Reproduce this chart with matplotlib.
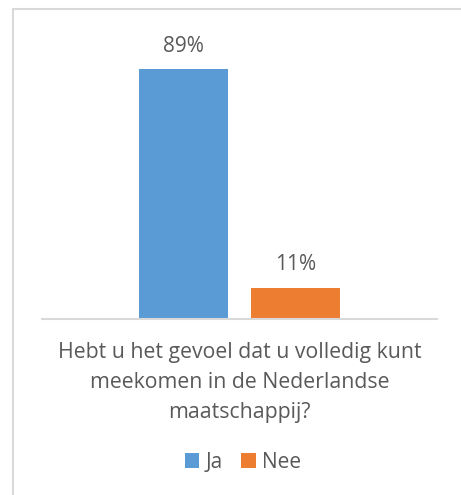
import matplotlib.pyplot as plt
from matplotlib.patches import Rectangle

# data
categories = ["Hebt u het gevoel dat u volledig kunt\nmeekomen in de Nederlandse\nmaatschappij?"]
series = ["Ja", "Nee"]
values = [89, 11]
colors = ["#5B9BD5", "#ED7D31"]

text_color = "#595959"
grid_color = "#D9D9D9"
plt.rcParams['font.family'] = ['Open Sans', 'DejaVu Sans']

fig = plt.figure(figsize=(4.61, 4.95), dpi=100)
ax = fig.add_axes([42 / 461, 1 - 318.5 / 495, 395 / 461, 280 / 495])

# outer chart border (cut off at right and bottom)
fig.patches.append(Rectangle((13 / 461, -0.1), 1.2, 1 - 9 / 495 + 0.1,
                             transform=fig.transFigure, fill=False,
                             edgecolor=grid_color, linewidth=1.5))

width = 0.225
offsets = [-0.1418, 0.1418]
for name, v, c, off in zip(series, values, colors, offsets):
    bars = ax.bar(0 + off, v, width=width, color=c, label=name)
    ax.bar_label(bars, labels=["%d%%" % v], padding=9, fontsize=15, color=text_color)

ax.set_xlim(-0.5, 0.5)
ax.set_ylim(0, 100)
ax.set_xticks([0], categories)
ax.tick_params(axis='x', length=0, pad=17, labelsize=15.3, labelcolor=text_color)
ax.set_yticks([])
for s in ['top', 'right', 'left']:
    ax.spines[s].set_visible(False)
ax.spines['bottom'].set_color(grid_color)
ax.spines['bottom'].set_linewidth(1.5)
for lbl in ax.get_xticklabels():
    lbl.set_linespacing(1.55)

fig.legend(loc='center', bbox_to_anchor=(243 / 461, 1 - 462 / 495), ncol=2, frameon=False,
           fontsize=15, labelcolor=text_color, handlelength=0.7, handleheight=0.7,
           handletextpad=0.3, columnspacing=0.9)

fig.savefig("out.png", dpi=100)
